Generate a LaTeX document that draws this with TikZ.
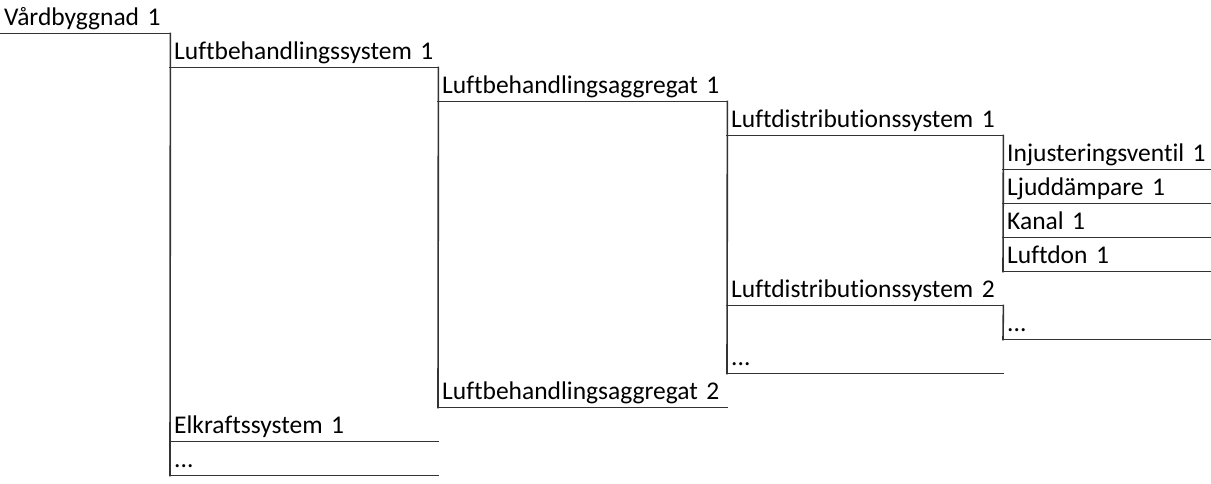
\documentclass[tikz,border=0pt]{standalone}
\usepackage{fontspec}
\setmainfont{Carlito}[Ligatures=NoCommon, WordSpace=0.7]
\begin{document}
\begin{tikzpicture}[x=1pt,y=-1pt,
  item/.style={anchor=south west, inner xsep=4pt, inner ysep=0pt,
    text height=18pt, text depth=8pt, align=left,
    font=\fontsize{25.5pt}{28pt}\selectfont},
  lzero/.style={item, text width=162pt},
  lone/.style={item, text width=260pt},
  ltwo/.style={item, text width=281pt},
  lthree/.style={item, text width=268pt},
  lfour/.style={item, text width=200pt},
  rule/.style={draw=black!80, line width=1.6pt, line cap=rect}]
\useasboundingbox (0,0) rectangle (1211,484);
% nodes
\node[lzero]  (v)    at (0,33.5)    {Vårdbyggnad 1};
\node[lone]   (lbs)  at (170,67.5) {Luftbehandlingssystem 1};
\node[ltwo]   (lba1) at (438,101.5){Luftbehandlingsaggregat 1};
\node[lthree] (lds1) at (727,135.5){Luftdistributionssystem 1};
\node[lfour]  (inj)  at (1003,169.5){Injusteringsventil 1};
\node[lfour]  (ljd)  at (1003,203.5){Ljuddämpare 1};
\node[lfour]  (kan)  at (1003,237.5){Kanal 1};
\node[lfour]  (ldon) at (1003,271.5){Luftdon 1};
\node[lthree] (lds2) at (727,305.5){Luftdistributionssystem 2};
\node[lfour]  (dd)   at (1003,339.5){...};
\node[lthree] (d3)   at (727,373.5) {...};
\node[ltwo]   (lba2) at (438,407.5) {Luftbehandlingsaggregat 2};
\node[lone]   (elk)  at (170,441.5) {Elkraftssystem 1};
\node[lone]   (d1)   at (170,475.5) {...};
% underlines
\foreach \n in {v,lbs,lba1,lds1,inj,ljd,kan,ldon,lds2,dd,d3,lba2,elk,d1}
  \draw[rule] (\n.south west) -- (\n.south east);
% tree verticals
\draw[rule] (v.south east) -- (d1.south west);
\draw[rule] (lbs.south east) -- (lba2.south west);
\draw[rule] (lba1.south east) -- (d3.south west);
\draw[rule] (lds1.south east) -- (ldon.south west);
\draw[rule] (lds2.south east) -- (dd.south west);
\end{tikzpicture}
\end{document}
